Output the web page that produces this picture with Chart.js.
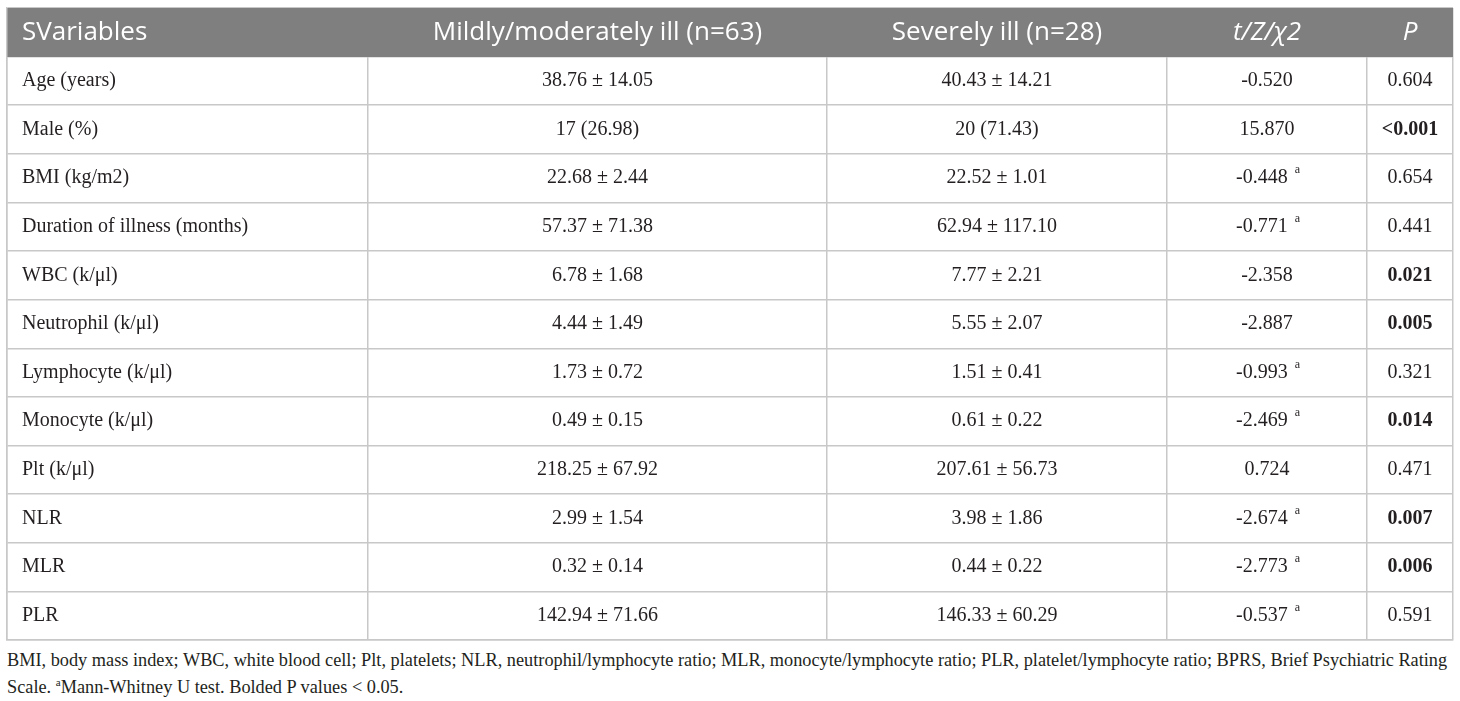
<!DOCTYPE html>
<html>
<head>
<meta charset="utf-8">
<script src="https://cdn.jsdelivr.net/npm/chart.js@4.4.1/dist/chart.umd.min.js"></script>
<style>
  html, body { margin: 0; padding: 0; background: #fff; }
  #wrap { position: absolute; left: 6px; top: 7px; width: 1448px; height: 634px; }
  #note {
    position: absolute; left: 7px; top: 647px;
    font-family: "Liberation Serif", "DejaVu Serif", serif;
    font-size: 18.3px; line-height: 27px; color: #231f20; white-space: nowrap;
  }
  #note sup { font-size: 11px; vertical-align: 7px; line-height: 0; }
</style>
</head>
<body>
<div id="wrap"><canvas id="tableChart"></canvas></div>
<div id="note">BMI, body mass index; WBC, white blood cell; Plt, platelets; NLR, neutrophil/lymphocyte ratio; MLR, monocyte/lymphocyte ratio; PLR, platelet/lymphocyte ratio; BPRS, Brief Psychiatric Rating<br>Scale. <sup>a</sup>Mann-Whitney U test. Bolded P values &lt; 0.05.</div>
<script>
// Dữ liệu bảng
const headers = ["SVariables", "Mildly/moderately ill (n=63)", "Severely ill (n=28)", "t/Z/χ2", "P"];
const variables = [
    "Age (years)", "Male (%)", "BMI (kg/m2)", "Duration of illness (months)",
    "WBC (k/μl)", "Neutrophil (k/μl)", "Lymphocyte (k/μl)", "Monocyte (k/μl)",
    "Plt (k/μl)", "NLR", "MLR", "PLR",
];
const mildValues = [
    "38.76 ± 14.05", "17 (26.98)", "22.68 ± 2.44", "57.37 ± 71.38",
    "6.78 ± 1.68", "4.44 ± 1.49", "1.73 ± 0.72", "0.49 ± 0.15",
    "218.25 ± 67.92", "2.99 ± 1.54", "0.32 ± 0.14", "142.94 ± 71.66",
];
const severeValues = [
    "40.43 ± 14.21", "20 (71.43)", "22.52 ± 1.01", "62.94 ± 117.10",
    "7.77 ± 2.21", "5.55 ± 2.07", "1.51 ± 0.41", "0.61 ± 0.22",
    "207.61 ± 56.73", "3.98 ± 1.86", "0.44 ± 0.22", "146.33 ± 60.29",
];
const statValues = [
    "-0.520", "15.870", "-0.448", "-0.771", "-2.358", "-2.887",
    "-0.993", "-2.469", "0.724", "-2.674", "-2.773", "-0.537",
];
const mannWhitney = [false, false, true, true, false, false, true, true, false, true, true, true];
const pValues = [
    "0.604", "<0.001", "0.654", "0.441", "0.021", "0.005",
    "0.321", "0.014", "0.471", "0.007", "0.006", "0.591",
];

// Bố cục cột (đơn vị trục x)
const COL_EDGES = [0, 361, 820, 1160, 1360, 1446];
const rowKeys = ["header"].concat(variables);

const GRID = "#c8c8c8";
const INK = "#231f20";
const SERIF = '"Liberation Serif", "DejaVu Serif", serif';
const SANS = '"Open Sans", "Noto Sans", sans-serif';
const BODY = "20px " + SERIF;
const SUP = "12px " + SERIF;

function isBold(p) {
    return parseFloat(p.replace("<", "")) < 0.05;
}

const cellText = {
    id: "cellText",
    afterDraw(chart) {
        const ctx = chart.ctx;
        const x = chart.scales.x;
        const y = chart.scales.y;
        const left = (c) => x.getPixelForValue(COL_EDGES[c]);
        const mid = (c) => (x.getPixelForValue(COL_EDGES[c]) + x.getPixelForValue(COL_EDGES[c + 1])) / 2;
        ctx.save();
        ctx.textBaseline = "middle";

        // Hàng tiêu đề
        const hy = y.getPixelForValue(0);
        ctx.fillStyle = "#ffffff";
        headers.forEach((h, c) => {
            const italic = c >= 3 ? "italic " : "";
            ctx.font = italic + "26px " + SANS;
            if (c === 0) {
                ctx.textAlign = "left";
                ctx.fillText(h, left(0) + 15, hy);
            } else {
                ctx.textAlign = "center";
                ctx.fillText(h, mid(c), hy);
            }
        });

        // Các hàng dữ liệu
        ctx.fillStyle = INK;
        variables.forEach((v, r) => {
            const ry = y.getPixelForValue(r + 1);
            ctx.font = BODY;
            ctx.textAlign = "left";
            ctx.fillText(v, left(0) + 15, ry);
            ctx.textAlign = "center";
            ctx.fillText(mildValues[r], mid(1), ry);
            ctx.fillText(severeValues[r], mid(2), ry);

            const s = statValues[r];
            if (mannWhitney[r]) {
                const w = ctx.measureText(s + " ").width;
                ctx.font = SUP;
                const wa = ctx.measureText("a").width;
                const start = mid(3) - (w + wa) / 2;
                ctx.textAlign = "left";
                ctx.font = BODY;
                ctx.fillText(s, start, ry);
                ctx.font = SUP;
                ctx.fillText("a", start + w + 2, ry - 8);
            } else {
                ctx.fillText(s, mid(3), ry);
            }

            ctx.textAlign = "center";
            ctx.font = (isBold(pValues[r]) ? "bold " : "") + BODY;
            ctx.fillText(pValues[r], mid(4), ry);
        });
        ctx.restore();
    },
};

const ctxTable = document.getElementById("tableChart").getContext("2d");
new Chart(ctxTable, {
    type: "bar",
    data: {
        labels: rowKeys,
        datasets: [
            {
                label: "header",
                data: rowKeys.map((k) => (k === "header" ? [COL_EDGES[0], COL_EDGES[COL_EDGES.length - 1]] : null)),
                backgroundColor: "#7f7f7f",
                borderWidth: 0,
                barPercentage: 1,
                categoryPercentage: 1,
            },
        ],
    },
    options: {
        indexAxis: "y",
        responsive: true,
        maintainAspectRatio: false,
        animation: false,
        layout: { padding: 1 },
        scales: {
            x: {
                type: "linear",
                min: COL_EDGES[0],
                max: COL_EDGES[COL_EDGES.length - 1],
                z: 1,
                afterBuildTicks: (scale) => {
                    scale.ticks = COL_EDGES.map((v) => ({ value: v }));
                },
                ticks: { display: false },
                grid: { color: GRID, lineWidth: 1.5, drawTicks: false },
                border: { display: true, color: GRID, width: 1.5 },
            },
            y: {
                type: "category",
                offset: true,
                ticks: { display: false },
                grid: { offset: true, color: GRID, lineWidth: 1.5, drawTicks: false },
                border: { display: true, color: GRID, width: 1.5 },
            },
        },
        plugins: {
            legend: { display: false },
            tooltip: { enabled: false },
            title: { display: false },
        },
    },
    plugins: [cellText],
});
</script>
</body>
</html>
